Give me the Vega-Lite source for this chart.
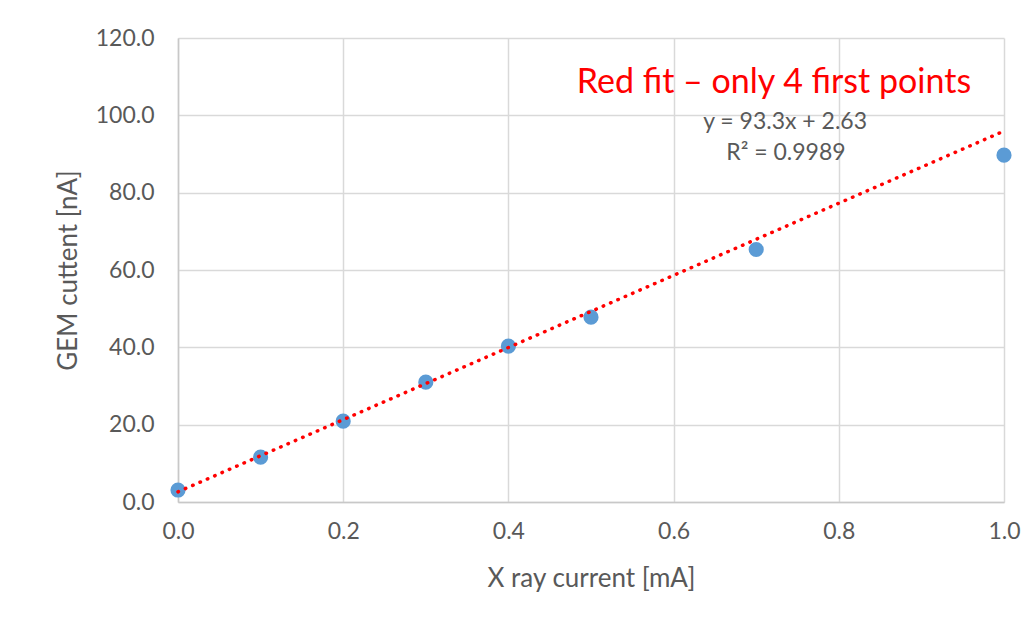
{
  "$schema": "https://vega.github.io/schema/vega-lite/v6.json",
  "width": 826,
  "height": 464,
  "autosize": {"type": "none"},
  "padding": {"left": 178, "top": 38, "right": 31, "bottom": 124},
  "background": "white",
  "config": {
    "font": "Lato",
    "view": {"stroke": null},
    "axis": {
      "gridColor": "#d9d9d9",
      "gridWidth": 1.5,
      "domainColor": "#c8c8c8",
      "domainWidth": 1.5,
      "ticks": false,
      "labelColor": "#595959",
      "labelFontSize": 23,
      "labelFont": "Lato",
      "labelFlush": false,
      "labelOverlap": false,
      "titleColor": "#595959",
      "titleFontSize": 26,
      "titleFont": "Lato",
      "titleFontWeight": "normal"
    }
  },
  "datasets": {
    "points": [
      {"x": 0.0, "y": 3.1},
      {"x": 0.1, "y": 11.6},
      {"x": 0.2, "y": 20.9},
      {"x": 0.3, "y": 31.0},
      {"x": 0.4, "y": 40.3},
      {"x": 0.5, "y": 47.8},
      {"x": 0.7, "y": 65.3},
      {"x": 1.0, "y": 89.7}
    ],
    "fit": [
      {"x": 0.0, "y": 2.63},
      {"x": 1.0, "y": 95.93}
    ],
    "notes": [
      {"x": 0.7215, "y": 108.4, "t": "Red fit – only 4 first points", "kind": "red"},
      {"x": 0.735, "y": 98.3, "t": "y = 93.3x + 2.63", "kind": "eq"},
      {"x": 0.736, "y": 90.3, "t": "R² = 0.9989", "kind": "eq"}
    ]
  },
  "layer": [
    {
      "data": {"name": "fit"},
      "mark": {"type": "line", "color": "#ff0000", "strokeWidth": 3.5, "strokeDash": [0.5, 7.5], "strokeCap": "round", "opacity": 0},
      "encoding": {
        "x": {
          "field": "x", "type": "quantitative",
          "scale": {"domain": [0, 1], "nice": false},
          "axis": {"values": [0, 0.2, 0.4, 0.6, 0.8, 1.0], "format": ".1f", "labelPadding": 18, "title": "X ray current [mA]", "titleY": 76, "titleBaseline": "middle", "titleAnchor": "middle", "domain": true}
        },
        "y": {
          "field": "y", "type": "quantitative",
          "scale": {"domain": [0, 120], "nice": false},
          "axis": {"values": [0, 20, 40, 60, 80, 100, 120], "format": ".1f", "labelPadding": 24, "title": "GEM cuttent [nA]", "titleX": -110, "titleY": 232, "titleAnchor": "middle", "titleAngle": -90, "titleBaseline": "middle", "titleAlign": "center", "domain": true}
        }
      }
    },
    {
      "data": {"name": "points"},
      "mark": {"type": "point", "filled": true, "size": 230, "color": "#5b9bd5", "opacity": 1},
      "encoding": {
        "x": {"field": "x", "type": "quantitative"},
        "y": {"field": "y", "type": "quantitative"}
      }
    },
    {
      "data": {"name": "fit"},
      "mark": {"type": "line", "color": "#ff0000", "strokeWidth": 3.5, "strokeDash": [0.5, 7.5], "strokeCap": "round"},
      "encoding": {
        "x": {"field": "x", "type": "quantitative"},
        "y": {"field": "y", "type": "quantitative"}
      }
    },
    {
      "data": {"name": "notes"},
      "transform": [{"filter": "datum.kind == 'red'"}],
      "mark": {"type": "text", "color": "#ff0000", "fontSize": 34, "font": "Lato", "align": "center", "baseline": "middle"},
      "encoding": {
        "x": {"field": "x", "type": "quantitative"},
        "y": {"field": "y", "type": "quantitative"},
        "text": {"field": "t"}
      }
    },
    {
      "data": {"name": "notes"},
      "transform": [{"filter": "datum.kind == 'eq'"}],
      "mark": {"type": "text", "color": "#595959", "fontSize": 23, "font": "Lato", "align": "center", "baseline": "middle"},
      "encoding": {
        "x": {"field": "x", "type": "quantitative"},
        "y": {"field": "y", "type": "quantitative"},
        "text": {"field": "t"}
      }
    }
  ]
}
